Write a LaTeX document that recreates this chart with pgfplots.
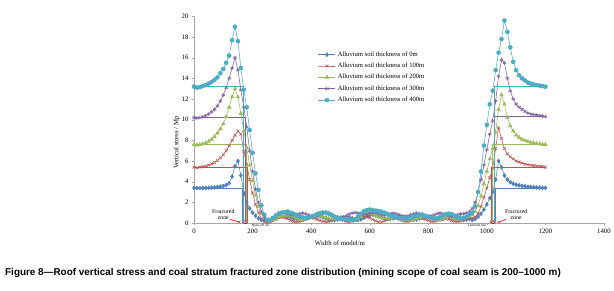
\documentclass[border=0pt]{standalone}
\usepackage{pgfplots}
\pgfplotsset{compat=1.18}
\usepackage{pgfplotstable}
\usepackage{fontspec}
\setmainfont{Liberation Serif}
\newfontfamily\capfont[Ligatures=TeX]{Liberation Sans}
\usetikzlibrary{arrows.meta}
\definecolor{cA}{HTML}{4F81BD}
\definecolor{cB}{HTML}{C0504D}
\definecolor{cC}{HTML}{9BBB59}
\definecolor{cD}{HTML}{8064A2}
\definecolor{cE}{HTML}{4BACC6}

\pgfplotstableread{
x s0 s100 s200 s300 s400
0 3.40 5.40 7.60 10.20 13.20
10 3.38 5.35 7.55 10.15 13.10
20 3.38 5.40 7.60 10.20 13.15
30 3.38 5.45 7.65 10.30 13.25
40 3.40 5.50 7.75 10.40 13.35
50 3.40 5.60 7.90 10.55 13.50
60 3.42 5.72 8.10 10.75 13.65
70 3.45 5.85 8.35 11.00 13.85
80 3.48 6.05 8.70 11.35 14.10
90 3.52 6.30 9.10 11.80 14.50
100 3.58 6.60 9.60 12.40 14.90
110 3.68 7.00 10.30 13.10 15.50
120 3.85 7.50 11.20 14.00 16.20
130 4.50 8.00 12.20 15.00 17.70
140 5.50 8.50 13.00 16.00 19.00
150 6.00 8.90 12.20 14.80 17.60
160 4.60 8.60 10.60 12.90 15.00
170 2.90 6.90 8.90 11.20 12.90
180 2.00 5.70 7.30 9.30 11.20
190 1.40 4.20 5.60 7.00 9.00
200 1.00 2.90 4.10 5.00 6.80
210 0.70 1.80 2.70 3.30 4.80
220 0.45 1.00 1.60 2.00 3.20
230 0.30 0.40 0.90 1.10 1.70
240 0.25 0.15 0.50 0.60 0.80
250 0.20 0.05 0.20 0.30 0.30
260 0.25 0.10 0.20 0.35 0.30
270 0.40 0.20 0.30 0.55 0.50
280 0.55 0.35 0.45 0.80 0.70
290 0.65 0.50 0.60 1.00 0.90
300 0.70 0.55 0.70 1.05 1.00
310 0.70 0.50 0.75 1.00 1.05
320 0.65 0.40 0.75 0.90 1.10
330 0.55 0.25 0.70 0.80 1.00
340 0.45 0.15 0.60 0.75 0.90
350 0.40 0.10 0.45 0.80 0.75
360 0.35 0.15 0.35 0.90 0.60
370 0.35 0.25 0.30 0.95 0.55
380 0.40 0.35 0.35 0.90 0.50
390 0.50 0.45 0.45 0.80 0.50
400 0.60 0.50 0.55 0.70 0.60
410 0.65 0.45 0.65 0.65 0.70
420 0.70 0.35 0.70 0.70 0.85
430 0.65 0.25 0.70 0.85 0.95
440 0.55 0.15 0.65 1.00 1.00
450 0.45 0.10 0.55 1.05 1.00
460 0.35 0.15 0.45 1.00 0.90
470 0.30 0.25 0.40 0.85 0.75
480 0.30 0.35 0.40 0.70 0.60
490 0.35 0.40 0.45 0.60 0.50
500 0.45 0.35 0.50 0.55 0.45
510 0.55 0.25 0.50 0.60 0.40
520 0.60 0.15 0.45 0.70 0.35
530 0.55 0.10 0.35 0.85 0.30
540 0.45 0.15 0.25 0.95 0.30
550 0.35 0.30 0.25 1.00 0.35
560 0.30 0.45 0.40 0.95 0.60
570 0.35 0.60 0.60 0.85 0.90
580 0.50 0.65 0.80 0.80 1.15
590 0.65 0.60 0.90 0.85 1.25
600 0.75 0.50 0.90 0.95 1.30
610 0.80 0.35 0.85 1.00 1.25
620 0.75 0.20 0.75 1.00 1.20
630 0.65 0.10 0.65 0.90 1.15
640 0.55 0.10 0.55 0.80 1.10
650 0.45 0.20 0.50 0.75 1.00
660 0.40 0.35 0.45 0.80 0.90
670 0.40 0.45 0.45 0.90 0.75
680 0.45 0.50 0.50 0.95 0.65
690 0.55 0.45 0.55 0.90 0.55
700 0.60 0.35 0.55 0.80 0.50
710 0.60 0.25 0.50 0.70 0.45
720 0.55 0.15 0.40 0.65 0.45
730 0.45 0.15 0.30 0.70 0.45
740 0.35 0.25 0.30 0.80 0.50
750 0.30 0.35 0.35 0.90 0.60
760 0.35 0.45 0.45 0.95 0.70
770 0.45 0.50 0.55 0.90 0.80
780 0.55 0.45 0.65 0.80 0.80
790 0.60 0.35 0.65 0.70 0.70
800 0.60 0.25 0.60 0.65 0.60
810 0.50 0.15 0.50 0.70 0.50
820 0.40 0.15 0.40 0.80 0.45
830 0.35 0.25 0.35 0.90 0.45
840 0.35 0.35 0.35 0.95 0.55
850 0.40 0.45 0.45 0.90 0.70
860 0.50 0.45 0.55 0.80 0.85
870 0.55 0.35 0.60 0.70 0.90
880 0.55 0.25 0.55 0.65 0.85
890 0.45 0.15 0.45 0.70 0.70
900 0.35 0.15 0.35 0.80 0.55
910 0.30 0.20 0.35 0.85 0.45
920 0.30 0.30 0.45 0.90 0.50
930 0.35 0.40 0.55 0.95 0.60
940 0.40 0.45 0.65 1.10 0.80
950 0.30 0.45 0.80 1.40 1.00
960 0.40 0.60 1.10 2.00 1.60
970 0.60 0.90 1.70 3.00 3.00
980 0.90 1.60 2.60 4.20 5.00
990 1.30 2.50 3.80 5.60 7.50
1000 1.80 3.40 5.00 7.10 9.50
1010 2.40 4.40 6.20 8.60 11.50
1020 3.00 5.30 7.20 9.90 12.80
1030 4.20 7.20 8.80 11.80 14.80
1040 6.00 9.20 11.00 14.20 16.50
1050 5.40 8.20 12.40 15.80 17.80
1060 4.60 7.20 11.50 15.50 19.60
1070 4.20 6.70 10.20 14.00 18.50
1080 3.95 6.40 9.40 12.80 17.00
1090 3.80 6.20 8.90 12.00 15.60
1100 3.70 6.00 8.50 11.50 14.80
1110 3.65 5.90 8.30 11.20 14.30
1120 3.60 5.80 8.10 11.00 14.00
1130 3.55 5.70 8.00 10.80 13.80
1140 3.50 5.65 7.90 10.65 13.60
1150 3.48 5.60 7.80 10.55 13.50
1160 3.46 5.55 7.75 10.50 13.40
1170 3.44 5.50 7.70 10.45 13.35
1180 3.42 5.50 7.65 10.40 13.30
1190 3.40 5.45 7.60 10.35 13.25
1200 3.40 5.40 7.60 10.30 13.20
}\stress

\begin{document}
\begin{tikzpicture}[x=1pt,y=1pt]
\path[use as bounding box] (0,0) rectangle (614,291);
\begin{axis}[
  at={(194pt,68pt)}, anchor=south west,
  scale only axis, width=410pt, height=206.6pt,
  xmin=0, xmax=1400, ymin=0, ymax=20,
  clip=false,
  axis lines=left,
  axis line style={gray!70, -},
  xtick={0,200,...,1400}, ytick={0,2,...,20},
  tick align=outside, major tick length=2pt,
  tick style={gray!70},
  tick label style={font=\fontsize{6.8}{7}\selectfont},
  /pgf/number format/assume math mode=true,
  /pgf/number format/1000 sep={},
  xlabel={Width of model/m},
  xlabel style={at={(axis description cs:0.356,-0.10)}, anchor=center, font=\fontsize{6.8}{7}\selectfont},
  ylabel={Vertical stress / Mp},
  ylabel style={at={(axis description cs:-0.042,0.39)}, anchor=center, font=\fontsize{6.8}{7}\selectfont},
  legend style={at={(0.295,0.85)}, anchor=north west, draw=none, fill=none,
    font=\fontsize{6.6}{7}\selectfont, row sep=1.2pt,
    legend cell align=left},
  every axis plot/.append style={line width=0.55pt},
]
\addplot[cA, mark=diamond*, mark size=2pt] table[x=x,y=s0]{\stress};
\addlegendentry{Alluvium soil thickness of 0m}
\addplot[cB, mark=x, mark size=2pt] table[x=x,y=s100]{\stress};
\addlegendentry{Alluvium soil thickness of 100m}
\addplot[cC, mark=triangle*, mark size=2pt] table[x=x,y=s200]{\stress};
\addlegendentry{Alluvium soil thickness of 200m}
\addplot[cD, mark=asterisk, mark size=2pt] table[x=x,y=s300]{\stress};
\addlegendentry{Alluvium soil thickness of 300m}
\addplot[cE, mark=*, mark size=2pt] table[x=x,y=s400]{\stress};
\addlegendentry{Alluvium soil thickness of 400m}

% baselines and fractured-zone limits
\addplot[cA, forget plot, -{Latex[length=2.5pt,width=2.5pt]}] coordinates {(0,3.4)(166,3.4)(166,0)};
\addplot[cB, forget plot, -{Latex[length=2.5pt,width=2.5pt]}] coordinates {(0,5.4)(182,5.4)(182,0)};
\addplot[cC, forget plot, -{Latex[length=2.5pt,width=2.5pt]}] coordinates {(0,7.6)(178,7.6)(178,0)};
\addplot[cD, forget plot, -{Latex[length=2.5pt,width=2.5pt]}] coordinates {(0,10.2)(175,10.2)(175,0)};
\addplot[cE, forget plot, -{Latex[length=2.5pt,width=2.5pt]}] coordinates {(0,13.2)(168,13.2)(168,0)};

\addplot[cA, forget plot, -{Latex[length=2.5pt,width=2.5pt]}] coordinates {(1200,3.4)(1028,3.4)(1028,0)};
\addplot[cB, forget plot, -{Latex[length=2.5pt,width=2.5pt]}] coordinates {(1200,5.4)(1015,5.4)(1015,0)};
\addplot[cC, forget plot, -{Latex[length=2.5pt,width=2.5pt]}] coordinates {(1200,7.6)(1020,7.6)(1020,0)};
\addplot[cD, forget plot, -{Latex[length=2.5pt,width=2.5pt]}] coordinates {(1200,10.3)(1024,10.3)(1024,0)};
\addplot[cE, forget plot, -{Latex[length=2.5pt,width=2.5pt]}] coordinates {(1200,13.2)(1026,13.2)(1026,0)};

% annotations
\node[font=\fontsize{5.8}{6}\selectfont, align=center] at (axis cs:100,0.85) {Fractured\\zone};
\draw[red, line width=0.6pt, -{Latex[length=2.5pt]}] (axis cs:122,0.35) -- (axis cs:160,0.05);
\draw[red, line width=0.5pt, {Latex[length=2pt]}-{Latex[length=2pt]}] (axis cs:163,0.02) -- (axis cs:186,0.02);
\node[font=\fontsize{3.4}{3.6}\selectfont, anchor=north west, inner sep=0.5pt] at (axis cs:195,-0.05) {Open-off cut};

\node[font=\fontsize{5.8}{6}\selectfont, align=center] at (axis cs:1100,0.85) {Fractured\\zone};
\draw[red, line width=0.6pt, -{Latex[length=2.5pt]}] (axis cs:1065,0.35) -- (axis cs:1035,0.02);
\draw[red, line width=0.5pt, {Latex[length=2pt]}-{Latex[length=2pt]}] (axis cs:1010,0.02) -- (axis cs:1032,0.02);
\node[font=\fontsize{3.4}{3.6}\selectfont, anchor=north east, inner sep=0.5pt] at (axis cs:1000,-0.05) {Terminal line};
\end{axis}
\node[anchor=west, inner sep=0pt, font=\capfont\bfseries\fontsize{9.9}{10}\selectfont] at (5,18) {Figure 8—Roof vertical stress and coal stratum fractured zone distribution (mining scope of coal seam is 200–1000 m)};
\end{tikzpicture}
\end{document}
